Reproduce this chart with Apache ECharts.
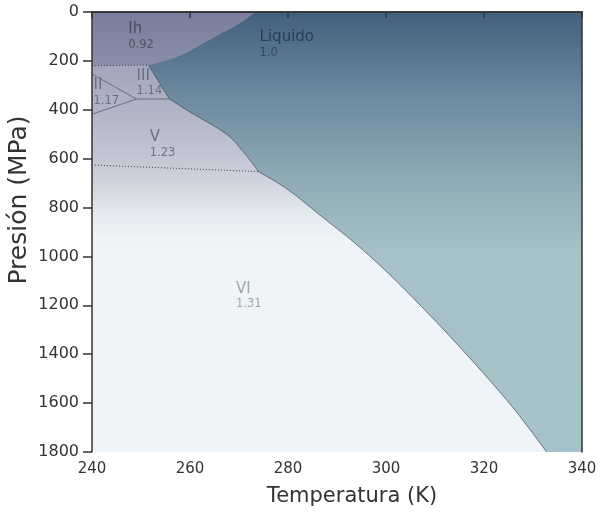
<!DOCTYPE html>
<html>
<head>
<meta charset="utf-8">
<script src="https://cdn.jsdelivr.net/npm/echarts@6/dist/echarts.min.js"></script>
<style>
  html, body { margin: 0; padding: 0; background: #fff; }
  #chart { width: 601px; height: 514px; }
</style>
</head>
<body>
<div id="chart"></div>
<script>
// axis ranges
const tempMin = 240
const tempMax = 340
const presMin = 0
const presMax = 1800

// liquid / solid boundary [K, MPa], split in branches at the triple points
const ihMelt = [[273.3, 0], [270.2, 45], [266.8, 82], [263.4, 120], [260.0, 158], [256.6, 188], [251.5, 217]]
const iiiMelt = [[251.5, 217], [255.8, 356]]
const vMelt = [[255.8, 356], [260.4, 414], [267.2, 496], [270.6, 565], [274.0, 653]]
const viMelt = [[274.0, 653], [280.1, 728], [286.9, 837], [293.7, 946], [300.5, 1069], [307.3, 1206],
  [313.1, 1328], [319.9, 1478], [326.3, 1628], [332.8, 1800]]

// boundaries between ices
const ihIIILine = [[240, 220], [251.5, 217]]
const iiIIILine = [[240, 254], [249.1, 356]]
const iiVLine = [[249.1, 356], [240, 418]]
const iiiVLine = [[249.1, 356], [255.8, 356]]
const vVILine = [[240, 626], [274.0, 653]]

// phase labels: name, density (g/cm3), anchor [K, MPa]
const phaseNames = ['Ih', 'Liquido', 'III', 'II', 'V', 'VI']
const densities = ['0.92', '1.0', '1.14', '1.17', '1.23', '1.31']
const labelAnchors = [[247.4, 36], [274.2, 68], [249.1, 226], [240.3, 266], [251.8, 477], [269.4, 1097]]
const labelTones = ['ih', 'liq', 'mid', 'mid', 'mid', 'light']

const chart = echarts.init(document.getElementById('chart'))

function pt (p) {
  return p[0].toFixed(2) + ' ' + p[1].toFixed(2)
}

// smooth curve (catmull-rom) through pixel points, without the starting M
function spline (px) {
  let d = ''
  for (let i = 0; i < px.length - 1; i++) {
    const p0 = px[Math.max(i - 1, 0)]
    const p1 = px[i]
    const p2 = px[i + 1]
    const p3 = px[Math.min(i + 2, px.length - 1)]
    const c1 = [p1[0] + (p2[0] - p0[0]) / 6, p1[1] + (p2[1] - p0[1]) / 6]
    const c2 = [p2[0] - (p3[0] - p1[0]) / 6, p2[1] - (p3[1] - p1[1]) / 6]
    d += ' C' + pt(c1) + ' ' + pt(c2) + ' ' + pt(p2)
  }
  return d
}

function grad (stops) {
  return new echarts.graphic.LinearGradient(0, 0, 0, 1, stops)
}

const solidStops = [
  { offset: 0, color: '#8d90aa' },
  { offset: 0.12, color: '#a2a5bb' },
  { offset: 0.2, color: '#aeb1c4' },
  { offset: 0.34, color: '#c4c7d4' },
  { offset: 0.41, color: '#d6dbe3' },
  { offset: 0.46, color: '#e5ebf0' },
  { offset: 0.52, color: '#eef4f7' },
  { offset: 1, color: '#eef4f7' }
]
const ihStops = [
  { offset: 0, color: '#7b7e9a' },
  { offset: 1, color: '#8b8ea8' }
]
const liquidStops = [
  { offset: 0, color: '#435f7c' },
  { offset: 0.2, color: '#6e8ba0' },
  { offset: 0.4, color: '#93aeb8' },
  { offset: 0.55, color: '#a6c1c7' },
  { offset: 1, color: '#a6c3c9' }
]

function renderPhases (params, api) {
  const c = p => api.coord(p)
  const ih = ihMelt.map(c)
  const iii = iiiMelt.map(c)
  const v = vMelt.map(c)
  const vi = viMelt.map(c)
  const tl = c([tempMin, presMin])
  const br = c([tempMax, presMax])
  const melt = spline(ih) + spline(iii) + spline(v) + spline(vi)
  const liquid = 'M' + pt(ih[0]) + melt + ' L' + pt(br) + ' L' + pt(c([tempMax, presMin])) + ' Z'
  const ihArea = 'M' + pt(ih[0]) + spline(ih) + ' L' + pt(c(ihIIILine[0])) + ' L' + pt(tl) + ' Z'
  const edge = 'M' + pt(iii[0]) + spline(iii) + spline(v) + spline(vi)
  return {
    type: 'group',
    children: [
      {
        type: 'rect',
        shape: { x: tl[0], y: tl[1], width: br[0] - tl[0], height: br[1] - tl[1] },
        style: { fill: grad(solidStops) }
      },
      { type: 'path', shape: { pathData: liquid }, style: { fill: grad(liquidStops) } },
      { type: 'path', shape: { pathData: ihArea }, style: { fill: grad(ihStops) } },
      { type: 'path', shape: { pathData: edge }, style: { fill: null, stroke: 'rgba(70,82,95,0.75)', lineWidth: 1 } }
    ]
  }
}

function boundary (points, color, type) {
  return {
    type: 'line',
    data: points,
    symbol: 'none',
    silent: true,
    z: 4,
    lineStyle: { color: color, width: 1, type: type }
  }
}

const font = 'DejaVu Sans'

const option = {
  animation: false,
  grid: { left: 92, right: 19, top: 12, bottom: 62, outerBoundsMode: 'none', containLabel: false },
  xAxis: [
    {
      type: 'value',
      min: tempMin,
      max: tempMax,
      interval: 20,
      z: 10,
      axisLine: { lineStyle: { color: '#333', width: 1.5 } },
      axisTick: { length: 6, lineStyle: { color: '#333', width: 1.5 } },
      axisLabel: { color: '#333', fontSize: 15, fontFamily: font, margin: 10 },
      splitLine: { show: false },
      name: 'Temperatura (K)',
      nameLocation: 'middle',
      nameGap: 34,
      nameMoveOverlap: false,
      nameTextStyle: { color: '#333', fontSize: 21, fontFamily: font, padding: [0, 0, 0, 30] }
    },
    {
      type: 'value',
      position: 'top',
      min: tempMin,
      max: tempMax,
      z: 10,
      axisLine: { lineStyle: { color: '#333', width: 1.5 } },
      axisTick: { show: false },
      axisLabel: { show: false },
      splitLine: { show: false }
    }
  ],
  yAxis: [
    {
      type: 'value',
      inverse: true,
      min: presMin,
      max: presMax,
      interval: 200,
      z: 10,
      axisLine: { lineStyle: { color: '#333', width: 1.5 } },
      axisTick: { length: 9, lineStyle: { color: '#333', width: 1.5 } },
      axisLabel: { color: '#333', fontSize: 16, fontFamily: font, margin: 13, formatter: v => String(v) },
      splitLine: { show: false },
      name: 'Presión (MPa)',
      nameLocation: 'middle',
      nameGap: 60,
      nameMoveOverlap: false,
      nameTextStyle: { color: '#333', fontSize: 25, fontFamily: font, padding: [0, 0, 0, 64] }
    },
    {
      type: 'value',
      position: 'right',
      inverse: true,
      min: presMin,
      max: presMax,
      z: 10,
      axisLine: { lineStyle: { color: '#333', width: 1.5 } },
      axisTick: { show: false },
      axisLabel: { show: false },
      splitLine: { show: false }
    }
  ],
  series: [
    {
      type: 'custom',
      silent: true,
      z: 1,
      data: [[tempMin, presMin]],
      renderItem: renderPhases
    },
    boundary(iiIIILine, '#6a6e82', 'solid'),
    boundary(iiVLine, '#6a6e82', 'solid'),
    boundary(iiiVLine, '#6a6e82', 'solid'),
    boundary(ihIIILine, '#3f4255', [1, 2]),
    boundary(vVILine, '#3f4255', [1, 2]),
    {
      type: 'scatter',
      silent: true,
      z: 6,
      symbolSize: 0,
      data: labelAnchors,
      label: {
        show: true,
        position: [0, 0],
        align: 'left',
        verticalAlign: 'top',
        fontFamily: font,
        formatter: function (params) {
          const t = labelTones[params.dataIndex]
          return '{' + t + 'N|' + phaseNames[params.dataIndex] + '}\n{' + t + 'D|' + densities[params.dataIndex] + '}'
        },
        rich: {
          ihN: { fontSize: 15, lineHeight: 17, color: '#3a3d52', fontFamily: font },
          ihD: { fontSize: 11.5, lineHeight: 14, color: '#43475b', fontFamily: font },
          liqN: { fontSize: 15, lineHeight: 17, color: '#1f3247', fontFamily: font },
          liqD: { fontSize: 11.5, lineHeight: 14, color: '#2a3c50', fontFamily: font },
          midN: { fontSize: 15, lineHeight: 17, color: '#5a5e72', fontFamily: font },
          midD: { fontSize: 11.5, lineHeight: 14, color: '#5a5e72', fontFamily: font },
          lightN: { fontSize: 15, lineHeight: 17, color: '#8c9399', fontFamily: font },
          lightD: { fontSize: 11.5, lineHeight: 14, color: '#8c9399', fontFamily: font }
        }
      }
    }
  ]
}
chart.setOption(option)
</script>
</body>
</html>
